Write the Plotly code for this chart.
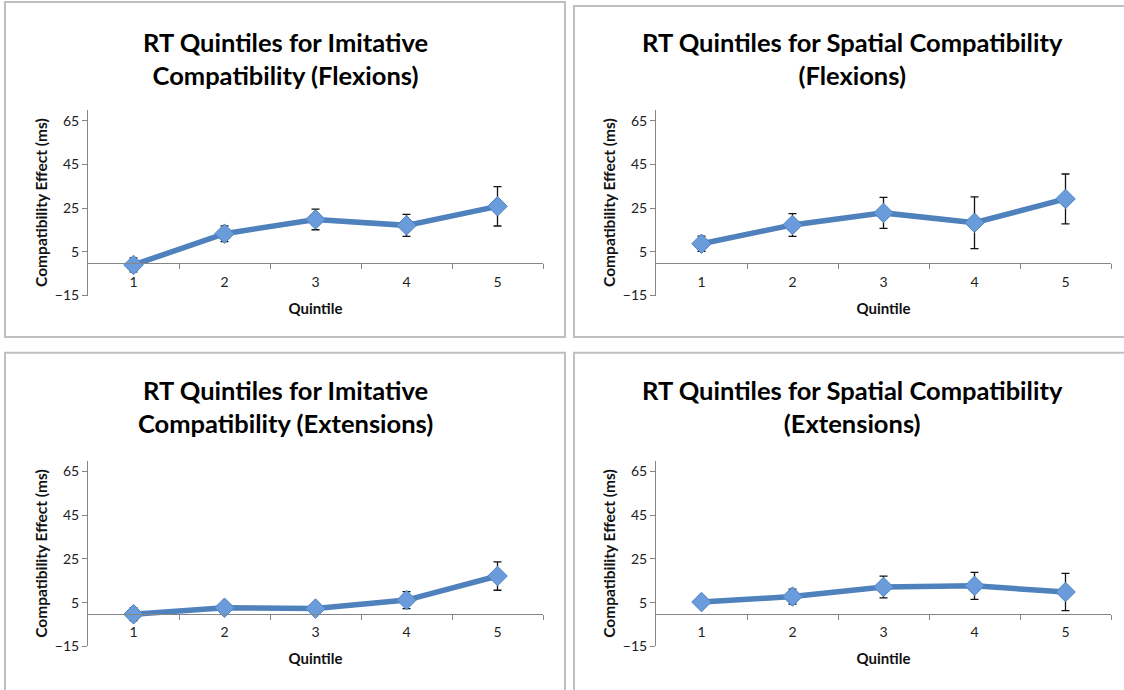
import plotly.graph_objects as go

# ---- data ----
quintiles = [1, 2, 3, 4, 5]
quintile_labels = ["1", "2", "3", "4", "5"]

imit_flex = [-1.0, 13.3, 19.8, 17.1, 25.8]
imit_flex_err = [3.2, 3.6, 4.7, 5.0, 9.0]

spat_flex = [8.7, 17.3, 22.8, 18.3, 29.2]
spat_flex_err = [3.5, 5.2, 7.1, 11.8, 11.4]

imit_ext = [-0.3, 2.7, 2.3, 6.2, 17.2]
imit_ext_err = [2.9, 2.0, 2.3, 3.9, 6.5]

spat_ext = [5.3, 7.8, 12.2, 12.7, 9.9]
spat_ext_err = [2.4, 3.4, 5.0, 6.2, 8.5]

titles = [
    "RT Quintiles for Imitative<br>Compatibility (Flexions)",
    "RT Quintiles for Spatial Compatibility<br>(Flexions)",
    "RT Quintiles for Imitative<br>Compatibility (Extensions)",
    "RT Quintiles for Spatial Compatibility<br>(Extensions)",
]
y_ticks = [-15, 5, 25, 45, 65]
y_range = [-15, 70]
x_title = "Quintile"
y_title = "Compatibility Effect (ms)"

# ---- layout geometry (pixels) ----
W, H = 1124, 690
def px(x):
    return x / W
def py(y):
    return 1 - y / H

panels = [
    dict(vals=imit_flex, err=imit_flex_err, x0=88, x1=543, ybot=299, ytop=111,
         box=(5, 2, 565, 341), tx=285, ty=59),
    dict(vals=spat_flex, err=spat_flex_err, x0=656, x1=1111, ybot=299, ytop=111,
         box=(574, 6, 1130, 341), tx=852, ty=59),
    dict(vals=imit_ext, err=imit_ext_err, x0=88, x1=543, ybot=654, ytop=466,
         box=(5, 357, 565, 700), tx=285, ty=411),
    dict(vals=spat_ext, err=spat_ext_err, x0=656, x1=1111, ybot=654, ytop=466,
         box=(574, 357, 1130, 700), tx=852, ty=411),
]

BLUE = "#4F81BD"
AXIS = "#868686"
FONT = "Lato"

fig = go.Figure()
layout = dict(
    width=W, height=H,
    margin=dict(l=0, r=0, t=0, b=0),
    paper_bgcolor="white", plot_bgcolor="white",
    showlegend=False,
    font=dict(family=FONT, color="#222222"),
    shapes=[], annotations=[],
)

for i, p in enumerate(panels, start=1):
    sfx = "" if i == 1 else str(i)
    fig.add_trace(go.Scatter(
        x=quintiles, y=p["vals"],
        xaxis="x" + sfx, yaxis="y" + sfx,
        mode="lines+markers",
        line=dict(color=BLUE, width=5.5),
        marker=dict(symbol="diamond", size=15, color="#6A9BDA",
                    line=dict(color="#4F81BD", width=1)),
        error_y=dict(type="data", array=p["err"], visible=True,
                     color="#111111", thickness=1.3, width=4),
        hoverinfo="x+y",
    ))
    ydom = [py(p["ybot"]), py(p["ytop"])]
    zero_frac = (0 - y_range[0]) / (y_range[1] - y_range[0])
    xpos = ydom[0] + zero_frac * (ydom[1] - ydom[0])
    layout["xaxis" + sfx] = dict(
        domain=[px(p["x0"]), px(p["x1"])],
        anchor="free", position=xpos,
        range=[0.5, 5.5],
        tickmode="array", tickvals=quintiles, ticktext=quintile_labels,
        ticks="outside", ticklen=6, tickcolor="rgba(0,0,0,0)",
        minor=dict(tickmode="array", tickvals=[1.5, 2.5, 3.5, 4.5, 5.5],
                   ticks="outside", ticklen=5, tickcolor=AXIS, tickwidth=1),
        showline=True, linecolor=AXIS, linewidth=1,
        showgrid=False, zeroline=False,
        tickfont=dict(size=14, color="#222222"),
        title=dict(text="<b>" + x_title + "</b>", font=dict(size=15, color="#111111"),
                   standoff=14),
        fixedrange=True,
    )
    layout["yaxis" + sfx] = dict(
        domain=ydom,
        anchor="x" + sfx,
        range=y_range,
        tickmode="array", tickvals=y_ticks,
        ticks="outside", ticklen=5, tickcolor=AXIS,
        showline=True, linecolor=AXIS, linewidth=1,
        showgrid=False, zeroline=False,
        tickfont=dict(size=14, color="#222222"),
        title=dict(text="<b>" + y_title + "</b>", font=dict(size=15.5, color="#111111"),
                   standoff=3),
        fixedrange=True,
    )
    bx0, by0, bx1, by1 = p["box"]
    layout["shapes"].append(dict(
        type="rect", xref="paper", yref="paper",
        x0=px(bx0), x1=px(bx1), y0=py(by1), y1=py(by0),
        line=dict(color="#BFBFBF", width=2), layer="below",
    ))
    layout["annotations"].append(dict(
        text="<b>" + titles[i - 1] + "</b>",
        xref="paper", yref="paper", x=px(p["tx"]), y=py(p["ty"]),
        xanchor="center", yanchor="middle", showarrow=False,
        font=dict(family=FONT, size=25.5, color="#000000"),
    ))

fig.update_layout(**layout)
fig.write_html(
    "out.html",
    config={"displayModeBar": False},
    post_script="document.body.style.margin='0';document.body.style.overflow='hidden';",
)
